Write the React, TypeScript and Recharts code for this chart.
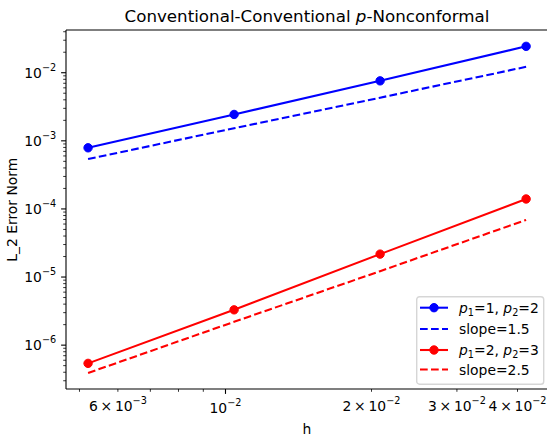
import React from 'react'
import { LineChart, Line, XAxis, YAxis, Legend, ReferenceLine } from 'recharts'

const FONT = 'DejaVu Sans, sans-serif'
const BLUE = '#0000ff'
const RED = '#ff0000'

// mesh size h, four refinements
const H = [0.005208, 0.010417, 0.020833, 0.041667]
const ERR_P1 = [7.9e-4, 2.44e-3, 7.6e-3, 2.44e-2]
const SLOPE_15 = [5.4e-4, 1.53e-3, 4.3e-3, 1.22e-2]
const ERR_P2 = [5.4e-7, 3.3e-6, 2.17e-5, 1.4e-4]
const SLOPE_25 = [3.9e-7, 2.2e-6, 1.22e-5, 6.9e-5]

const SERIES = [
  { key: 'p1', name: 'p_1=1, p_2=2', color: BLUE, dashed: false },
  { key: 's15', name: 'slope=1.5', color: BLUE, dashed: true },
  { key: 'p2', name: 'p_1=2, p_2=3', color: RED, dashed: false },
  { key: 's25', name: 'slope=2.5', color: RED, dashed: true },
]

const X_DOMAIN = [0.00469, 0.04623]
const Y_DOMAIN = [2.27e-7, 0.0424]

const X_MAJOR = [0.01]
const X_MINOR = [0.005, 0.006, 0.007, 0.008, 0.009, 0.02, 0.03, 0.04]
const X_LABEL_AT = [0.006, 0.01, 0.02, 0.03, 0.04]
const X_LABEL_TEXT = [
  ['6\u2009×\u200910', '−3'],
  ['10', '−2'],
  ['2\u2009×\u200910', '−2'],
  ['3\u2009×\u200910', '−2'],
  ['4\u2009×\u200910', '−2'],
]
const Y_MAJOR = [1e-6, 1e-5, 1e-4, 1e-3, 1e-2]
const Y_MAJOR_EXP = ['−6', '−5', '−4', '−3', '−2']
const Y_DECADES = [1e-7, 1e-6, 1e-5, 1e-4, 1e-3, 1e-2]
const MANTISSA = [2, 3, 4, 5, 6, 7, 8, 9]

const data = H.map((h, i) => ({
  h,
  p1: ERR_P1[i],
  s15: SLOPE_15[i],
  p2: ERR_P2[i],
  s25: SLOPE_25[i],
}))

const near = (a: number, b: number) => Math.abs(a - b) < 1e-6 * Math.abs(b)

const Y_MINOR = Y_DECADES.flatMap((d) => MANTISSA.map((m) => m * d)).filter(
  (v) => v > Y_DOMAIN[0] && v < Y_DOMAIN[1],
)
const X_TICKS = [...X_MINOR, ...X_MAJOR].sort((a, b) => a - b)
const Y_TICKS = [...Y_MINOR, ...Y_MAJOR].sort((a, b) => a - b)

function XTick(props: any) {
  const { x, y, payload } = props
  const v = payload.value as number
  const major = X_MAJOR.some((t) => near(v, t))
  const i = X_LABEL_AT.findIndex((t) => near(v, t))
  return (
    <g>
      <line x1={x} x2={x} y1={y} y2={y + (major ? 4.9 : 2.8)} stroke="#000" strokeWidth={major ? 1.1 : 0.8} />
      {i >= 0 && (
        <text x={x} y={y + (major ? 24 : 21.8)} textAnchor="middle" fontSize={13.9} fontFamily={FONT} fill="#000">
          {X_LABEL_TEXT[i][0]}
          <tspan dy={-7} fontSize={9.7}>
            {X_LABEL_TEXT[i][1]}
          </tspan>
        </text>
      )}
    </g>
  )
}

function YTick(props: any) {
  const { x, y, payload } = props
  const v = payload.value as number
  const i = Y_MAJOR.findIndex((t) => near(v, t))
  const major = i >= 0
  return (
    <g>
      <line x1={x - (major ? 4.9 : 2.8)} x2={x} y1={y} y2={y} stroke="#000" strokeWidth={major ? 1.1 : 0.8} />
      {major && (
        <text x={x - 9.8} y={y + 5} textAnchor="end" fontSize={13.9} fontFamily={FONT} fill="#000">
          10
          <tspan dy={-7} fontSize={9.7}>
            {Y_MAJOR_EXP[i]}
          </tspan>
        </text>
      )}
    </g>
  )
}

function Title() {
  return (
    <text x={307} y={22} textAnchor="middle" fontSize={16.7} fontFamily={FONT} fill="#000">
      {'Conventional-Conventional '}
      <tspan fontStyle="italic">p</tspan>
      {'-Nonconformal'}
    </text>
  )
}

function XLabel() {
  return (
    <text x={307} y={434} textAnchor="middle" fontSize={13.9} fontFamily={FONT} fill="#000">
      h
    </text>
  )
}

function YLabel() {
  return (
    <text
      x={17}
      y={209.7}
      transform="rotate(-90 17 209.7)"
      textAnchor="middle"
      fontSize={13.9}
      fontFamily={FONT}
      fill="#000"
    >
      L_2 Error Norm
    </text>
  )
}

// "p_1" -> italic p with subscript 1
function mathLabel(name: string) {
  const parts = name.split(/(p_\d)/).filter((s) => s !== '')
  const out: React.ReactNode[] = []
  let shift = 0
  parts.forEach((part, k) => {
    if (/^p_\d$/.test(part)) {
      out.push(
        <tspan key={k + 'p'} dy={-shift} fontStyle="italic">
          p
        </tspan>,
      )
      out.push(
        <tspan key={k + 's'} dy={3} fontSize={9.7}>
          {part[2]}
        </tspan>,
      )
      shift = 3
    } else {
      out.push(
        <tspan key={k} dy={-shift}>
          {part}
        </tspan>,
      )
      shift = 0
    }
  })
  return out
}

const LEGEND_ROWS = [11.7, 33, 54, 73.5]

function LegendBox() {
  return (
    <svg width={130} height={90} style={{ display: 'block' }}>
      <rect
        x={0.7}
        y={0.7}
        width={127}
        height={87.5}
        rx={2.8}
        fill="#fff"
        fillOpacity={0.8}
        stroke="#cccccc"
        strokeOpacity={0.8}
        strokeWidth={1.4}
      />
      {SERIES.map((s, i) => {
        const cy = LEGEND_ROWS[i]
        return (
          <g key={s.key}>
            <line
              x1={4}
              x2={32}
              y1={cy}
              y2={cy}
              stroke={s.color}
              strokeWidth={2.08}
              strokeDasharray={s.dashed ? '7.7 3.3' : undefined}
            />
            {!s.dashed && <circle cx={18} cy={cy} r={4.2} fill={s.color} stroke={s.color} strokeWidth={1} />}
            <text x={43} y={cy + 5} fontSize={13.9} fontFamily={FONT} fill="#000">
              {mathLabel(s.name)}
            </text>
          </g>
        )
      })}
    </svg>
  )
}

export default function App() {
  return (
    <div style={{ position: 'absolute', left: 0, top: 0, width: 547, height: 437, overflow: 'hidden', background: '#fff' }}>
      <LineChart width={548} height={437} data={data} margin={{ top: 30, right: 0, bottom: 0, left: 0 }}>
        <XAxis
          dataKey="h"
          type="number"
          scale="log"
          domain={X_DOMAIN}
          allowDataOverflow
          ticks={X_TICKS}
          interval={0}
          tick={(p: any) => <XTick {...p} />}
          tickLine={false}
          tickSize={0}
          tickMargin={0}
          height={48}
          axisLine={{ stroke: '#000', strokeWidth: 1.1 }}
          label={<XLabel />}
        />
        <YAxis
          type="number"
          scale="log"
          domain={Y_DOMAIN}
          allowDataOverflow
          ticks={Y_TICKS}
          interval={0}
          tick={(p: any) => <YTick {...p} />}
          tickLine={false}
          tickSize={0}
          tickMargin={0}
          width={66}
          axisLine={{ stroke: '#000', strokeWidth: 1.1 }}
          label={<YLabel />}
        />
        {/* top spine, title hangs on it */}
        <ReferenceLine y={Y_DOMAIN[1]} stroke="#000" strokeWidth={1.1} label={<Title />} />
        {SERIES.map((s) => (
          <Line
            key={s.key}
            dataKey={s.key}
            name={s.name}
            type="linear"
            stroke={s.color}
            strokeWidth={2.08}
            strokeDasharray={s.dashed ? '7.7 3.3' : undefined}
            dot={s.dashed ? false : { r: 4.2, fill: s.color, stroke: s.color, strokeWidth: 1 }}
            activeDot={false}
            isAnimationActive={false}
          />
        ))}
        <Legend
          layout="vertical"
          align="center"
          verticalAlign="middle"
          content={() => <LegendBox />}
          wrapperStyle={{ left: 416, top: 296, width: 130 }}
        />
      </LineChart>
    </div>
  )
}
